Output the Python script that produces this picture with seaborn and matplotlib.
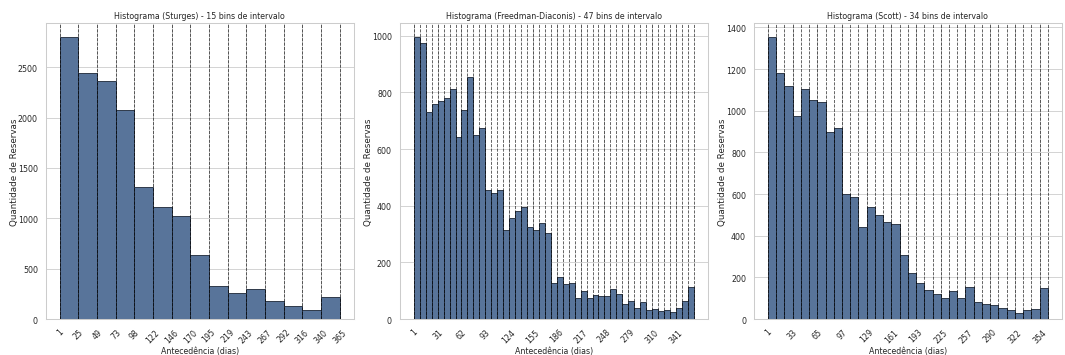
import matplotlib
matplotlib.use('Agg')
import matplotlib.pyplot as plt
import numpy as np
import pandas as pd
import seaborn as sns

# Contagens (reservas por bin de antecedencia)
lead_min, lead_max = 1, 365

sturges_counts = [2800, 2440, 2360, 2075, 1315, 1110, 1020, 640, 330, 255,
                  295, 180, 125, 85, 215]
sturges_ticks = ['1', '25', '49', '73', '98', '122', '146', '170', '195', '219',
                 '243', '267', '292', '316', '340', '365']

fd_counts = [996, 975, 732, 761, 770, 781, 811, 642, 737, 853,
             650, 676, 456, 444, 454, 316, 358, 380, 396, 325,
             315, 338, 303, 129, 147, 125, 127, 76, 100, 74,
             86, 83, 80, 106, 89, 54, 63, 39, 60, 31,
             36, 29, 31, 24, 39, 65, 114]
fd_ticks = ['1', '31', '62', '93', '124', '155', '186', '217', '248', '279',
            '310', '341']

scott_counts = [1354, 1182, 1117, 974, 1104, 1051, 1043, 899, 915, 600,
                587, 440, 539, 498, 467, 456, 306, 219, 171, 138,
                118, 99, 133, 101, 152, 80, 72, 69, 54, 42,
                30, 42, 50, 149]
scott_ticks = ['1', '33', '65', '97', '129', '161', '193', '225', '257', '290',
               '322', '354']

panels = [
    ('Sturges', sturges_counts, sturges_ticks, 1),
    ('Freedman-Diaconis', fd_counts, fd_ticks, 4),
    ('Scott', scott_counts, scott_ticks, 3),
]

sns.set_theme(style='whitegrid')

fig, axes = plt.subplots(1, 3, figsize=(17.75, 5.9333), dpi=60)

for ax, (name, counts, ticks, step) in zip(axes, panels):
    n_bins = len(counts)
    edges = np.linspace(lead_min, lead_max, n_bins + 1)
    df = pd.DataFrame({'lead': (edges[:-1] + edges[1:]) / 2, 'n': counts})
    sns.histplot(data=df, x='lead', weights='n', bins=list(edges), ax=ax,
                 color='#58749a', alpha=1, edgecolor='#1b2535', linewidth=1)
    for e in edges:
        ax.axvline(e, color='black', linestyle='--', linewidth=1, alpha=0.7)
    ax.set_xticks(edges[::step])
    ax.set_xticklabels(ticks, rotation=45)
    ax.tick_params(axis='both', labelsize=9.5)
    ax.set_title(f'Histograma ({name}) - {n_bins} bins de intervalo', fontsize=9.5)
    ax.set_xlabel('Antecedência (dias)', fontsize=9.5, labelpad=2)
    ax.set_ylabel('Quantidade de Reservas', fontsize=10.5, labelpad=-1)

plt.subplots_adjust(left=0.043, right=0.997, top=0.933, bottom=0.101, wspace=0.15)
fig.savefig('out.png', dpi=60)
